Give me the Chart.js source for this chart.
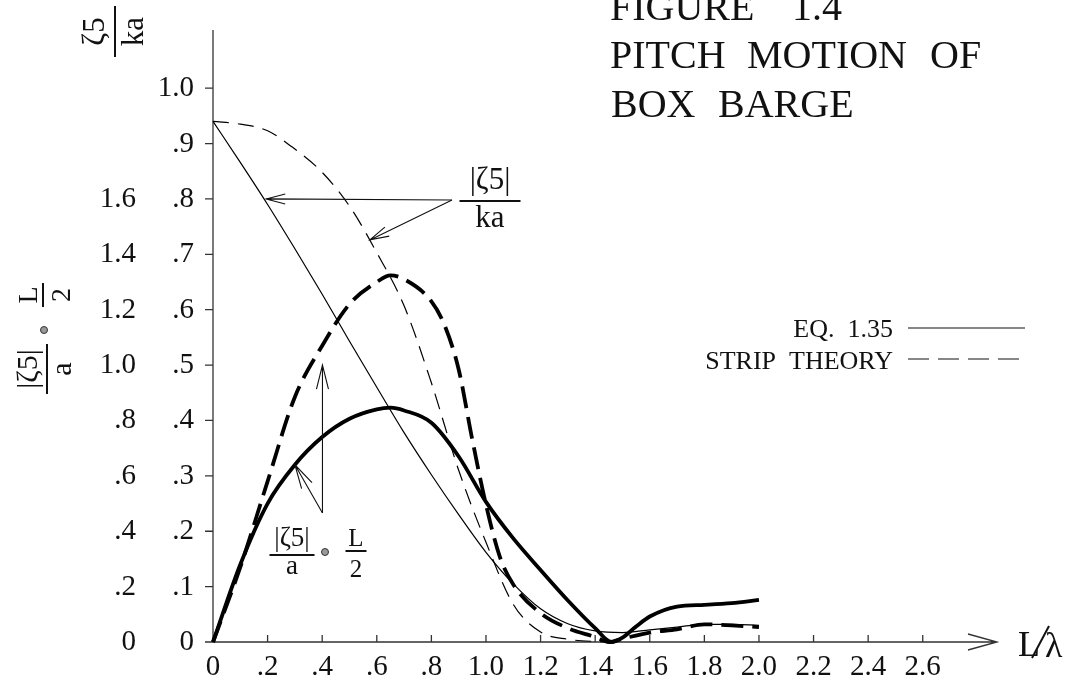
<!DOCTYPE html>
<html><head><meta charset="utf-8">
<script src="https://cdn.jsdelivr.net/npm/chart.js@4"></script>
<style>html,body{margin:0;background:#fff}#wrap{width:1076px;height:689px;position:relative}</style>
</head><body><div id="wrap"><canvas id="c"></canvas></div>
<script>
// axis ticks
const xTicks=[0,.2,.4,.6,.8,1.0,1.2,1.4,1.6,1.8,2.0,2.2,2.4,2.6];
const xTickLabels=['0','.2','.4','.6','.8','1.0','1.2','1.4','1.6','1.8','2.0','2.2','2.4','2.6'];
const kaTicks=[0,.1,.2,.3,.4,.5,.6,.7,.8,.9,1.0];
const kaTickLabels=['0','.1','.2','.3','.4','.5','.6','.7','.8','.9','1.0'];
const halfLTicks=[0,.2,.4,.6,.8,1.0,1.2,1.4,1.6];
const halfLTickLabels=['0','.2','.4','.6','.8','1.0','1.2','1.4','1.6'];

// |zeta5|/ka  (thin lines)
const eqKaX=[0,.1,.2,.3,.4,.5,.6,.7,.8,.9,1.0,1.1,1.2,1.3,1.4,1.5,1.6,1.7,1.8,1.9,2.0];
const eqKa=[.94,.866,.79,.71,.628,.543,.46,.378,.302,.23,.162,.105,.06,.033,.02,.017,.022,.027,.032,.032,.03];
const stripKaX=[0,.1,.2,.3,.4,.5,.6,.7,.8,.9,1.0,1.1,1.2,1.3,1.4,1.5];
const stripKa=[.94,.935,.923,.89,.848,.787,.703,.607,.468,.31,.18,.068,.018,.005,.001,0];

// |zeta5|/a * L/2  (thick lines)
const eqLX=[0,.1,.2,.3,.4,.5,.6,.65,.7,.8,.9,1.0,1.1,1.2,1.3,1.4,1.46,1.5,1.55,1.6,1.7,1.8,1.9,2.0];
const eqL=[0,.28,.50,.64,.74,.806,.84,.846,.836,.792,.67,.506,.374,.26,.15,.05,0,.016,.056,.092,.128,.134,.14,.152];
const stripLX=[0,.1,.2,.3,.4,.5,.6,.65,.7,.8,.85,.9,.95,1.0,1.05,1.1,1.2,1.3,1.4,1.45,1.5,1.6,1.7,1.8,1.9,2.0];
const stripL=[0,.27,.58,.885,1.07,1.22,1.30,1.324,1.31,1.23,1.14,.984,.73,.496,.31,.208,.104,.05,.018,0,.012,.034,.046,.064,.06,.054];

const serif='"Liberation Serif","Times New Roman",serif';
const pts=(xs,ys)=>xs.map((v,i)=>({x:v,y:ys[i]}));

function arrow(ctx,x0,y0,x1,y1,len,half){
  const a=Math.atan2(y1-y0,x1-x0),c=Math.cos(a),s=Math.sin(a);
  ctx.beginPath();ctx.moveTo(x0,y0);ctx.lineTo(x1,y1);
  ctx.moveTo(x1-len*c-half*s,y1-len*s+half*c);ctx.lineTo(x1,y1);ctx.lineTo(x1-len*c+half*s,y1-len*s-half*c);
  ctx.stroke();
}
function frac(ctx,num,den,cx,barY,barW,size,numOff,denOff){
  ctx.font=size+'px '+serif;ctx.textAlign='center';ctx.textBaseline='alphabetic';
  ctx.fillText(num,cx,barY-numOff);ctx.fillText(den,cx,barY+denOff);
  ctx.lineWidth=2;ctx.beginPath();ctx.moveTo(cx-barW/2,barY);ctx.lineTo(cx+barW/2,barY);ctx.stroke();
}
function dot(ctx,x,y){
  ctx.beginPath();ctx.arc(x,y,3.5,0,Math.PI*2);ctx.fillStyle='#999';ctx.fill();
  ctx.lineWidth=1;ctx.strokeStyle='#333';ctx.stroke();ctx.fillStyle='#111';ctx.strokeStyle='#111';
}

const axesPlugin={id:'axes',
  beforeDatasetsDraw(ch){
    const {ctx,chartArea:a,scales:{x,y}}=ch;
    const x0=x.getPixelForValue(0),y0=y.getPixelForValue(0);
    ctx.save();ctx.strokeStyle='#333';ctx.lineWidth=1.3;
    ctx.beginPath();
    ctx.moveTo(x0,a.top);ctx.lineTo(x0,y0);ctx.lineTo(a.right,y0);
    kaTicks.forEach(v=>{const p=y.getPixelForValue(v);ctx.moveTo(x0-8,p);ctx.lineTo(x0,p);});
    xTicks.forEach(v=>{const p=x.getPixelForValue(v);ctx.moveTo(p,y0);ctx.lineTo(p,y0-7);});
    ctx.moveTo(a.right-29,y0-8);ctx.lineTo(a.right,y0);ctx.lineTo(a.right-29,y0+8);
    ctx.stroke();
    ctx.restore();
  },
  afterDraw(ch){
    const {ctx,scales:{x,y,y2}}=ch;
    const x0=x.getPixelForValue(0),y0=y.getPixelForValue(0);
    ctx.save();ctx.fillStyle='#111';ctx.strokeStyle='#111';
    // tick labels
    ctx.font='29px '+serif;ctx.textBaseline='alphabetic';
    ctx.textAlign='center';
    xTicks.forEach((v,i)=>ctx.fillText(xTickLabels[i],x.getPixelForValue(v),y0+33));
    ctx.textAlign='right';
    kaTicks.forEach((v,i)=>ctx.fillText(kaTickLabels[i],x0-19,y.getPixelForValue(v)+8));
    halfLTicks.forEach((v,i)=>ctx.fillText(halfLTickLabels[i],136,y2.getPixelForValue(v)+8));
    // L/lambda
    ctx.textAlign='left';ctx.font='36px '+serif;
    ctx.fillText('L',1018,656);
    ctx.lineWidth=2;ctx.beginPath();ctx.moveTo(1032,658);ctx.lineTo(1049,626);ctx.stroke();
    ctx.fillText('\u03bb',1045,657);
    // title
    ctx.font='40px '+serif;
    ctx.fillText('FIGURE',610,20);ctx.fillText('1.4',792,20);
    ctx.fillText('PITCH',610,68);ctx.fillText('MOTION',747,68);ctx.fillText('OF',930,68);
    ctx.fillText('BOX',611,117);ctx.fillText('BARGE',718,117);
    // legend
    ctx.font='26px '+serif;ctx.textAlign='right';
    ctx.fillText('EQ.  1.35',893,337);ctx.fillText('STRIP  THEORY',893,369);
    ctx.lineWidth=1.2;ctx.beginPath();ctx.moveTo(908,328);ctx.lineTo(1025,328);ctx.stroke();
    ctx.setLineDash([21,9]);ctx.beginPath();ctx.moveTo(908,359);ctx.lineTo(1025,359);ctx.stroke();ctx.setLineDash([]);
    // annotation |z5|/ka
    frac(ctx,'|\u03b65|','ka',490,201,61,31,12,26);
    ctx.lineWidth=1.1;
    arrow(ctx,452,200,x.getPixelForValue(0.195),y.getPixelForValue(0.80),19,5);
    arrow(ctx,452,200,x.getPixelForValue(0.575),y.getPixelForValue(0.726),19,5);
    // annotation |z5|/a * L/2
    frac(ctx,'|\u03b65|','a',292,555,45,27,9,19);
    dot(ctx,325,552);
    frac(ctx,'L','2',356,551,21,25,5,26);
    ctx.lineWidth=1.1;
    const tx=x.getPixelForValue(0.401);
    arrow(ctx,tx,513,tx,y2.getPixelForValue(1.0),24,6);
    arrow(ctx,tx,513,x.getPixelForValue(0.30),y2.getPixelForValue(0.64),24,6);
    // rotated axis titles
    ctx.save();ctx.translate(115,31.5);ctx.rotate(-Math.PI/2);
    frac(ctx,'\u03b65','ka',0,0,51,31,11,28);
    ctx.restore();
    ctx.save();ctx.translate(47,340);ctx.rotate(-Math.PI/2);
    frac(ctx,'|\u03b65|','a',-29,0,50,30,10,24);
    dot(ctx,10,-3);
    frac(ctx,'L','2',45,-4,24,28,6,27);
    ctx.restore();
    ctx.restore();
  }
};

new Chart(document.getElementById('c'),{
  type:'line',
  data:{datasets:[
    {label:'EQ. 1.35 |z5|/ka',data:pts(eqKaX,eqKa),yAxisID:'y',borderWidth:1.2},
    {label:'Strip |z5|/ka',data:pts(stripKaX,stripKa),yAxisID:'y',borderWidth:1.2,borderDash:[16,9]},
    {label:'EQ. 1.35 |z5|/a L/2',data:pts(eqLX,eqL),yAxisID:'y2',borderWidth:3.8},
    {label:'Strip |z5|/a L/2',data:pts(stripLX,stripL),yAxisID:'y2',borderWidth:3.8,borderDash:[22,9]}
  ].map(d=>Object.assign({borderColor:'#000',pointRadius:0,cubicInterpolationMode:'monotone',fill:false,clip:10},d))},
  options:{
    responsive:true,maintainAspectRatio:false,animation:false,devicePixelRatio:1,
    layout:{padding:{left:213,top:30,right:79,bottom:47}},
    plugins:{legend:{display:false},tooltip:{enabled:false}},
    scales:{
      x:{type:'linear',min:0,max:2.872,display:false},
      y:{min:0,max:1.105,display:false},
      y2:{min:0,max:2.21,display:false}
    }
  },
  plugins:[axesPlugin]
});
</script>
</body></html>
